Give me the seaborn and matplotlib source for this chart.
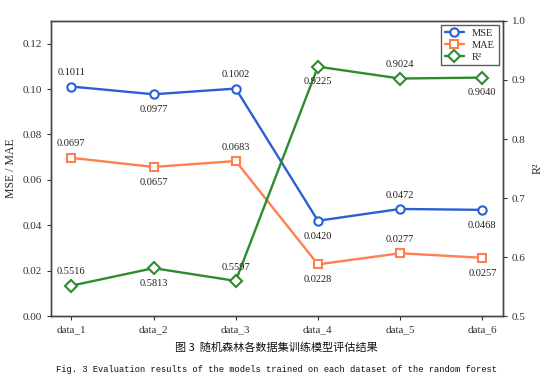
import matplotlib
matplotlib.use("Agg")
import matplotlib.pyplot as plt
import seaborn as sns
import pandas as pd

datasets = ["data_1", "data_2", "data_3", "data_4", "data_5", "data_6"]
mse = [0.1011, 0.0977, 0.1002, 0.0420, 0.0472, 0.0468]
mae = [0.0697, 0.0657, 0.0683, 0.0228, 0.0277, 0.0257]
r2 = [0.5516, 0.5813, 0.5597, 0.9225, 0.9024, 0.9040]

df = pd.DataFrame({"dataset": datasets, "MSE": mse, "MAE": mae, "R2": r2})

sns.set_style("ticks")
plt.rcParams["font.family"] = ["Liberation Serif", "DejaVu Serif"]

c_mse = "#2c5fd6"
c_mae = "#ff7f50"
c_r2 = "#2e8b2e"

fig = plt.figure(figsize=(5.52, 3.8), dpi=100)
ax = fig.add_axes([0.092, 0.168, 0.819, 0.777])
ax2 = ax.twinx()

mk = dict(markersize=6, markerfacecolor="white", markeredgewidth=1.5, linewidth=1.7)
sns.lineplot(data=df, x="dataset", y="MSE", ax=ax, color=c_mse, marker="o",
             markeredgecolor=c_mse, label="MSE", legend=False, **mk)
sns.lineplot(data=df, x="dataset", y="MAE", ax=ax, color=c_mae, marker="s",
             markeredgecolor=c_mae, label="MAE", legend=False, **mk)
sns.lineplot(data=df, x="dataset", y="R2", ax=ax2, color=c_r2, marker="D",
             markeredgecolor=c_r2, label="R²", legend=False, **mk)

# value labels, alternating above / below
for i in range(len(datasets)):
    off = 10 if i % 2 == 0 else -11
    for a, vals in ((ax, mse), (ax, mae), (ax2, r2)):
        a.annotate(f"{vals[i]:.4f}", (i, vals[i]), xytext=(0, off),
                   textcoords="offset points", ha="center", va="center",
                   fontsize=7.5, color="#222222")

ax.set_xlim(-0.25, 5.25)
ax.set_ylim(0, 0.13)
ax.set_yticks([0, 0.02, 0.04, 0.06, 0.08, 0.10, 0.12])
ax2.set_ylim(0.5, 1.0)
ax2.set_yticks([0.5, 0.6, 0.7, 0.8, 0.9, 1.0])
ax.set_xlabel("")
ax.set_ylabel("MSE / MAE", fontsize=8.5)
ax2.set_ylabel("R²", fontsize=8.5)
for a in (ax, ax2):
    a.tick_params(labelsize=8, length=3, width=0.8, colors="#333333")
    for s in a.spines.values():
        s.set_linewidth(1.0)
        s.set_color("#444444")

h1, l1 = ax.get_legend_handles_labels()
h2, l2 = ax2.get_legend_handles_labels()
leg = ax.legend(h1 + h2, l1 + l2, loc="upper right", fontsize=7.5,
                frameon=True, fancybox=False, borderpad=0.35,
                handlelength=1.8, labelspacing=0.25, borderaxespad=0.4)
leg.get_frame().set_edgecolor("#333333")
leg.get_frame().set_linewidth(1.0)
leg.set_zorder(10)

fig.text(0.5, 0.085, "图 3  随机森林各数据集训练模型评估结果", ha="center", va="center",
         fontsize=8, family=["Noto Sans CJK SC", "DejaVu Sans"], color="#111111")
fig.text(0.5, 0.027,
         "Fig. 3 Evaluation results of the models trained on each dataset of the random forest",
         ha="center", va="center", fontsize=6.3, family=["Liberation Mono", "DejaVu Sans Mono"],
         color="#111111")

fig.savefig("out.png", dpi=100, facecolor="white")
